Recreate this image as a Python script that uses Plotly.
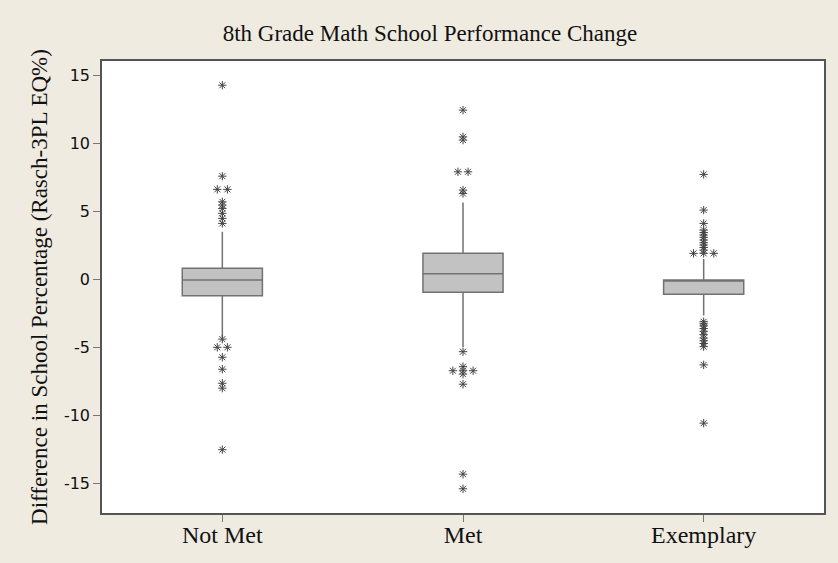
import plotly.graph_objects as go
from collections import Counter

categories = ["Not Met", "Met", "Exemplary"]
q1_vals = [-1.19, -0.94, -1.09]
median_vals = [-0.04, 0.43, -0.05]
q3_vals = [0.82, 1.92, -0.03]
lower_fence = [-4.25, -4.95, -2.65]
upper_fence = [3.5, 5.66, 1.5]

outliers_not_met = [14.27, 7.59, 6.62, 6.62, 5.71, 5.47, 5.22, 4.86, 4.49, 4.12,
                    -4.38, -4.98, -4.98, -5.71, -6.59, -7.62, -7.98, -12.5]
outliers_met = [12.44, 10.48, 10.24, 7.91, 7.91, 6.57, 6.32,
                -5.3, -6.4, -6.7, -6.7, -6.7, -6.95, -7.69, -14.3, -15.37]
outliers_exemplary = [7.72, 5.1, 4.12, 3.63, 3.45, 3.27, 3.1, 2.9, 2.7, 2.53, 2.35,
                      2.16, 1.92, 1.92, 1.92,
                      -3.1, -3.25, -3.4, -3.6, -3.8, -4.05, -4.3, -4.5, -4.7, -4.93,
                      -6.27, -10.55]
outlier_groups = [outliers_not_met, outliers_met, outliers_exemplary]

yticks = [-15, -10, -5, 0, 5, 10, 15]
ytick_labels = ["-15", "-10", "-5", "0", "5", "10", "15"]

BG = "#EFEBE1"
serif = "Liberation Serif, Times New Roman, serif"

fig = go.Figure()
fig.add_trace(go.Box(
    x=list(range(len(categories))),
    q1=q1_vals, median=median_vals, q3=q3_vals,
    lowerfence=lower_fence, upperfence=upper_fence,
    boxpoints=False, width=0.333, whiskerwidth=0,
    fillcolor="#C2C2C2", line=dict(color="#727272", width=1.5),
    showlegend=False, hoverinfo="skip",
))

# outliers; identical values are spread side by side
ox, oy = [], []
for i, vals in enumerate(outlier_groups):
    counts = Counter(vals)
    seen = Counter()
    for v in vals:
        n = counts[v]
        k = seen[v]
        seen[v] += 1
        off = (k - (n - 1) / 2) * 0.042
        ox.append(i + off)
        oy.append(v)
fig.add_trace(go.Scatter(
    x=ox, y=oy, mode="markers",
    marker=dict(symbol="asterisk-open", size=7, color="#444444",
                line=dict(color="#444444", width=1)),
    showlegend=False, hoverinfo="skip",
))

fig.update_layout(
    width=838, height=563,
    paper_bgcolor=BG, plot_bgcolor="white",
    margin=dict(l=102, r=12, t=61, b=50),
    title=dict(text="8th Grade Math School Performance Change",
               x=0.513, xref="container", xanchor="center",
               y=0.941, yref="container", yanchor="middle",
               font=dict(family=serif, size=23, color="#111111")),
)
fig.update_xaxes(
    range=[-0.5, 2.5], tickvals=list(range(len(categories))), ticktext=categories,
    ticks="outside", ticklen=7, tickcolor="#777777", tickwidth=1,
    ticklabelstandoff=-8,
    showgrid=False, zeroline=False, automargin=False,
    showline=True, linecolor="#555555", linewidth=1.5, mirror=True,
    tickfont=dict(family=serif, size=24, color="#111111"),
)
fig.update_yaxes(
    range=[-17.15, 16.05], tickvals=yticks, ticktext=ytick_labels,
    ticks="outside", ticklen=7, tickcolor="#777777", tickwidth=1,
    showgrid=False, zeroline=False,
    showline=True, linecolor="#555555", linewidth=1.5, mirror=True,
    tickfont=dict(family="DejaVu Sans, Verdana, sans-serif", size=16, color="#111111"),
    title=dict(text="Difference in School Percentage (Rasch-3PL EQ%)",
               font=dict(family=serif, size=23, color="#111111"), standoff=10),
)

fig.write_html("out.html", config={"displayModeBar": False},
               post_script="document.body.style.margin='0';")
